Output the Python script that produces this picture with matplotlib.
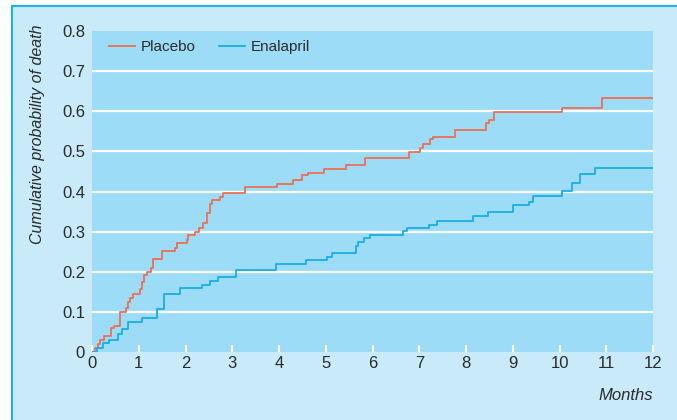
import numpy as np
import matplotlib
matplotlib.use('Agg')
import matplotlib.pyplot as plt
from matplotlib.patches import Rectangle

plt.rcParams['font.family'] = ['Liberation Sans Narrow', 'Liberation Sans', 'DejaVu Sans']

# step times (months) and cumulative probability after each step
PLACEBO_T = [0, 0.06, 0.12, 0.17, 0.26, 0.41, 0.46, 0.60, 0.73, 0.78, 0.81, 0.88,
             1.03, 1.06, 1.11, 1.17, 1.26, 1.30, 1.49, 1.78, 1.81, 2.03, 2.06, 2.20,
             2.28, 2.38, 2.47, 2.52, 2.57, 2.74, 2.81, 3.27, 3.95, 4.29, 4.49, 4.63,
             4.96, 5.43, 5.84, 6.79, 7.02, 7.07, 7.22, 7.30, 7.76, 8.42, 8.50, 8.59,
             10.05, 10.90]
PLACEBO_P = [0, 0.010, 0.020, 0.030, 0.040, 0.059, 0.066, 0.099, 0.109, 0.125, 0.135, 0.145,
             0.156, 0.175, 0.192, 0.200, 0.209, 0.231, 0.252, 0.260, 0.271, 0.279, 0.292, 0.300,
             0.310, 0.321, 0.347, 0.368, 0.379, 0.387, 0.397, 0.410, 0.418, 0.429, 0.440, 0.447,
             0.457, 0.467, 0.484, 0.499, 0.508, 0.518, 0.530, 0.536, 0.554, 0.571, 0.579, 0.597,
             0.609, 0.634]

ENALAPRIL_T = [0, 0.11, 0.23, 0.36, 0.55, 0.65, 0.78, 1.06, 1.38, 1.55, 1.88, 2.35,
               2.52, 2.70, 3.09, 3.94, 4.58, 5.02, 5.14, 5.65, 5.70, 5.81, 5.95, 6.65,
               6.73, 7.21, 7.39, 8.16, 8.46, 9.00, 9.35, 9.44, 10.05, 10.26, 10.43, 10.77]
ENALAPRIL_P = [0, 0.009, 0.022, 0.030, 0.045, 0.057, 0.075, 0.085, 0.108, 0.145, 0.160, 0.166,
               0.177, 0.186, 0.204, 0.219, 0.229, 0.236, 0.246, 0.263, 0.273, 0.283, 0.292, 0.301,
               0.310, 0.317, 0.327, 0.338, 0.349, 0.366, 0.375, 0.388, 0.401, 0.420, 0.443, 0.459]

X_TICKS = list(range(0, 13))
Y_TICKS = [0, 0.1, 0.2, 0.3, 0.4, 0.5, 0.6, 0.7, 0.8]
Y_LABELS = ['0', '0.1', '0.2', '0.3', '0.4', '0.5', '0.6', '0.7', '0.8']
END_TIME = 12

PANEL = '#c8eaf9'
PLOT_BG = '#9ddcf6'
BORDER = '#1eb4ea'
PLACEBO_COLOR = '#ec6f55'
ENALAPRIL_COLOR = '#18aee8'
TEXT = '#2b2b2b'

W, H = 677, 420
fig = plt.figure(figsize=(W / 100, H / 100), dpi=100)
fig.patch.set_facecolor('white')

# light blue panel with a border on the left and top
fig.patches.append(Rectangle((12 / W, -0.1), 1.2, 1 - 6 / H + 0.1, transform=fig.transFigure,
                             facecolor=PANEL, edgecolor=BORDER, linewidth=1.5, zorder=-10))

ax = fig.add_axes([92 / W, (H - 352) / H, 561 / W, 321 / H])
ax.set_facecolor(PLOT_BG)
for s in ax.spines.values():
    s.set_visible(False)

for y in Y_TICKS[1:-1]:
    ax.axhline(y, color='white', linewidth=1.6, zorder=1)

ax.step(PLACEBO_T + [END_TIME], PLACEBO_P + [PLACEBO_P[-1]], where='post',
        color=PLACEBO_COLOR, linewidth=1.3, label='Placebo', zorder=3)
ax.step(ENALAPRIL_T + [END_TIME], ENALAPRIL_P + [ENALAPRIL_P[-1]], where='post',
        color=ENALAPRIL_COLOR, linewidth=1.3, label='Enalapril', zorder=3)

ax.set_xlim(0, 12)
ax.set_ylim(0, 0.8)
ax.set_xticks(X_TICKS)
ax.set_yticks(Y_TICKS)
ax.set_yticklabels(Y_LABELS)
ax.tick_params(axis='x', direction='in', length=5, width=1.5, color='white',
               labelsize=12, labelcolor=TEXT, pad=3)
ax.tick_params(axis='y', length=0, labelsize=12, labelcolor=TEXT, pad=5)

fig.text(38 / W, (H - 134) / H, 'Cumulative probability of death', fontsize=11.5,
         style='italic', color=TEXT, rotation=90, ha='center', va='center')
fig.text(653 / W, (H - 395) / H, 'Months', fontsize=12, style='italic',
         color=TEXT, ha='right', va='center')

ax.legend(loc='upper left', bbox_to_anchor=(0.0196, 0.99), ncol=2, frameon=False,
          fontsize=11, handlelength=1.7, handletextpad=0.4, columnspacing=1.5,
          borderaxespad=0.0, labelcolor=TEXT)

fig.savefig('out.png', dpi=100, facecolor=fig.get_facecolor())
